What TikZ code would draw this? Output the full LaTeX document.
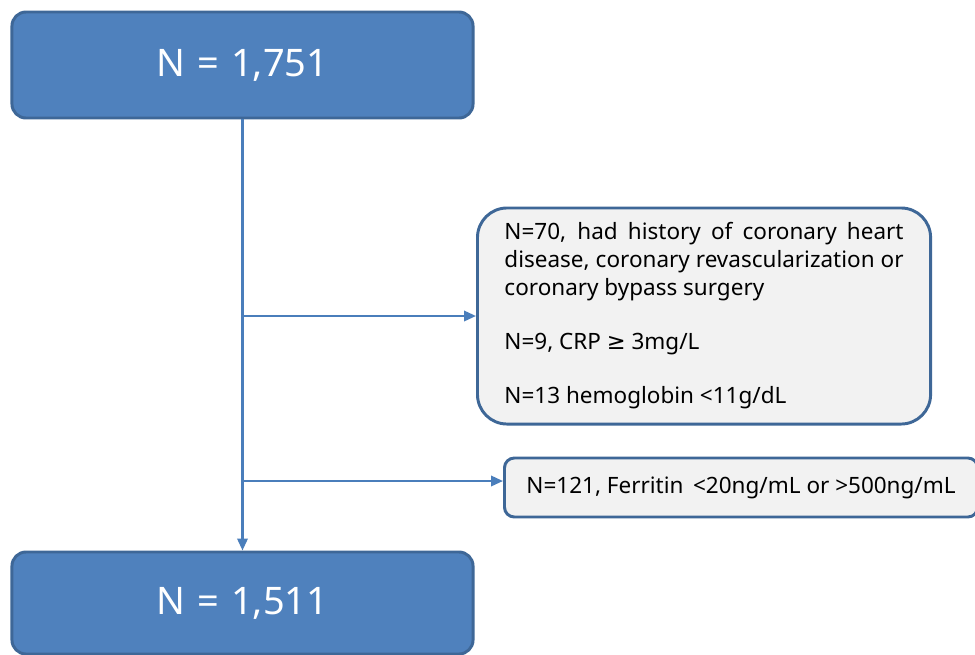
\documentclass[tikz,border=0pt]{standalone}
\usepackage{fontspec}
\setmainfont{Noto Sans}
\newfontfamily\symfont{DejaVu Sans}
\usetikzlibrary{arrows.meta, positioning}
\definecolor{boxblue}{HTML}{4F81BD}
\definecolor{edgeblue}{HTML}{3E6797}
\definecolor{lineblue}{HTML}{4A7EBB}
\definecolor{notegray}{HTML}{F2F2F2}

\begin{document}
\begin{tikzpicture}[x=0.025cm, y=-0.025cm,
	countbox/.style={draw=edgeblue, line width=2.1pt, fill=boxblue, rounded corners=10pt, text=white, font=\fontsize{27}{32}\selectfont, minimum width=11.525cm},
	notebox/.style={draw=edgeblue, line width=2.1pt, fill=notegray, font=\fontsize{16}{19.9}\selectfont},
	flow/.style={draw=lineblue, line width=1.6pt, -{Triangle[length=3mm, width=2.6mm]}}]
		\useasboundingbox (0,0) rectangle (975,654);
		\draw (242.5,65) node[countbox, minimum height=2.65cm] (top) {N\kern1.5pt{} = \kern1.5pt1,751}
		(242.5,603) node[countbox, minimum height=2.55cm] (bottom) {N\kern1.5pt{} = \kern1.5pt1,511}
		(476,316) node[notebox, anchor=west, rounded corners=21pt, text width=9.975cm, inner xsep=0.675cm, minimum height=5.4cm, align=justify] (excl) {N=70, had history of coronary heart\linebreak disease, coronary revascularization or\linebreak coronary bypass surgery\\[0.65cm]N=9, CRP {\symfont ≥} 3mg/L\\[0.65cm]N=13 hemoglobin <11g/dL}
		(503,487.5) node[notebox, anchor=west, rounded corners=7pt, inner xsep=0.55cm, minimum height=1.475cm] (ferr) {N=121, Ferritin \,<20ng/mL or >500ng/mL};
		\coordinate (br1) at (242,316);
		\coordinate (br2) at (242,481);

		\draw[flow] (top) -- (bottom);
		\draw[flow] (br1) -- (excl.west);
		\draw[flow] (br2) -- (br2 -| ferr.west);
	\end{tikzpicture}
\end{document}
